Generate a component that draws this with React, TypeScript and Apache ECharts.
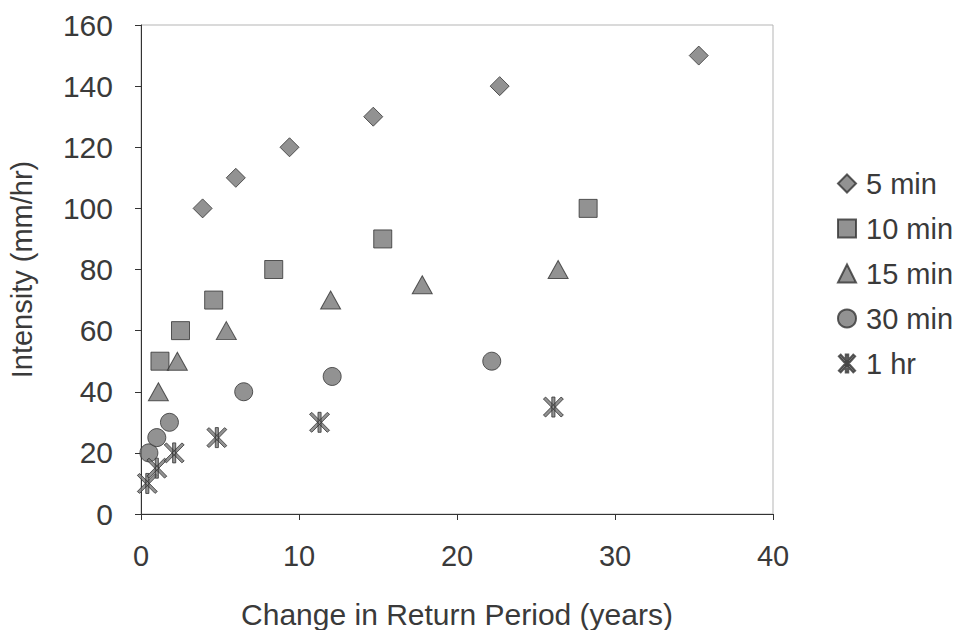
import React, { useEffect, useRef } from "react";
import * as echarts from "echarts";

const seriesNames = ["5 min", "10 min", "15 min", "30 min", "1 hr"];

const x5min = [3.9, 6.0, 9.4, 14.7, 22.7, 35.3];
const y5min = [100, 110, 120, 130, 140, 150];

const x10min = [1.2, 2.5, 4.6, 8.4, 15.3, 28.3];
const y10min = [50, 60, 70, 80, 90, 100];

const x15min = [1.1, 2.3, 5.4, 12.0, 17.8, 26.4];
const y15min = [40, 50, 60, 70, 75, 80];

const x30min = [0.5, 1.0, 1.8, 6.5, 12.1, 22.2];
const y30min = [20, 25, 30, 40, 45, 50];

const x1hr = [0.4, 1.0, 2.1, 4.8, 11.3, 26.1];
const y1hr = [10, 15, 20, 25, 30, 35];

const xTicks = { min: 0, max: 40, interval: 10 };
const yTicks = { min: 0, max: 160, interval: 20 };

function seg(x1: number, y1: number, x2: number, y2: number, h: number) {
  const dx = x2 - x1;
  const dy = y2 - y1;
  const len = Math.sqrt(dx * dx + dy * dy);
  const nx = (-dy / len) * h;
  const ny = (dx / len) * h;
  const f = (v: number) => v.toFixed(2);
  return `M${f(x1 + nx)} ${f(y1 + ny)}L${f(x2 + nx)} ${f(y2 + ny)}L${f(x2 - nx)} ${f(y2 - ny)}L${f(x1 - nx)} ${f(y1 - ny)}Z`;
}

const asterisk =
  "path://" +
  seg(10, 0, 10, 20, 1.4) +
  seg(2, 1, 18, 19, 1.4) +
  seg(18, 1, 2, 19, 1.4);

const zip = (xs: number[], ys: number[]) => xs.map((x, i) => [x, ys[i]]);

export default function App() {
  const ref = useRef<HTMLDivElement>(null);
  useEffect(() => {
    if (!ref.current) return;
    const chart = echarts.init(ref.current, undefined, { renderer: "svg" });
    const font = "Liberation Sans, Arial, sans-serif";
    const txt = "#3a3a3a";
    const itemStyle = { color: "#777777", borderColor: "#333333", borderWidth: 1 };
    const mk = (name: string, data: number[][], symbol: string, size: number | number[]) => ({
      name,
      type: "scatter",
      data,
      symbol,
      symbolSize: size,
      itemStyle,
    });
    chart.setOption({
      animation: false,
      backgroundColor: "#ffffff",
      textStyle: { fontFamily: font, color: txt },
      grid: {
        left: 141,
        right: 185,
        top: 25,
        bottom: 116,
        show: true,
        borderColor: "#b5b5b5",
        borderWidth: 1,
        containLabel: false,
        outerBoundsMode: "none",
      },
      legend: {
        orient: "vertical",
        left: 832,
        top: 164,
        itemGap: 16,
        itemWidth: 18,
        itemHeight: 18,
        textStyle: { fontFamily: font, fontSize: 29, color: txt, padding: [0, 0, 0, 5] },
        data: seriesNames,
      },
      xAxis: {
        type: "value",
        min: xTicks.min,
        max: xTicks.max,
        interval: xTicks.interval,
        name: "Change in Return Period (years)",
        nameLocation: "middle",
        nameGap: 85,
        nameTextStyle: { fontFamily: font, fontSize: 30, color: txt },
        axisLine: { show: true, lineStyle: { color: "#333", width: 1 } },
        axisTick: { show: true, length: 6, lineStyle: { color: "#333" } },
        axisLabel: { fontFamily: font, fontSize: 29, color: txt, margin: 27 },
        splitLine: { show: false },
      },
      yAxis: {
        type: "value",
        min: yTicks.min,
        max: yTicks.max,
        interval: yTicks.interval,
        name: "Intensity (mm/hr)",
        nameLocation: "middle",
        nameGap: 105,
        nameTextStyle: { fontFamily: font, fontSize: 29, color: txt },
        axisLine: { show: true, lineStyle: { color: "#333", width: 1 } },
        axisTick: { show: true, length: 6, lineStyle: { color: "#333" } },
        axisLabel: { fontFamily: font, fontSize: 30, color: txt, margin: 28 },
        splitLine: { show: false },
      },
      series: [
        mk(seriesNames[0], zip(x5min, y5min), "diamond", 19),
        mk(seriesNames[1], zip(x10min, y10min), "rect", 18),
        mk(seriesNames[2], zip(x15min, y15min), "triangle", [20, 18]),
        mk(seriesNames[3], zip(x30min, y30min), "circle", 18),
        mk(seriesNames[4], zip(x1hr, y1hr), asterisk, 20),
      ],
    });
    return () => chart.dispose();
  }, []);
  return (
    <div
      ref={ref}
      style={{ position: "absolute", left: 0, top: 0, width: 958, height: 630 }}
    />
  );
}
